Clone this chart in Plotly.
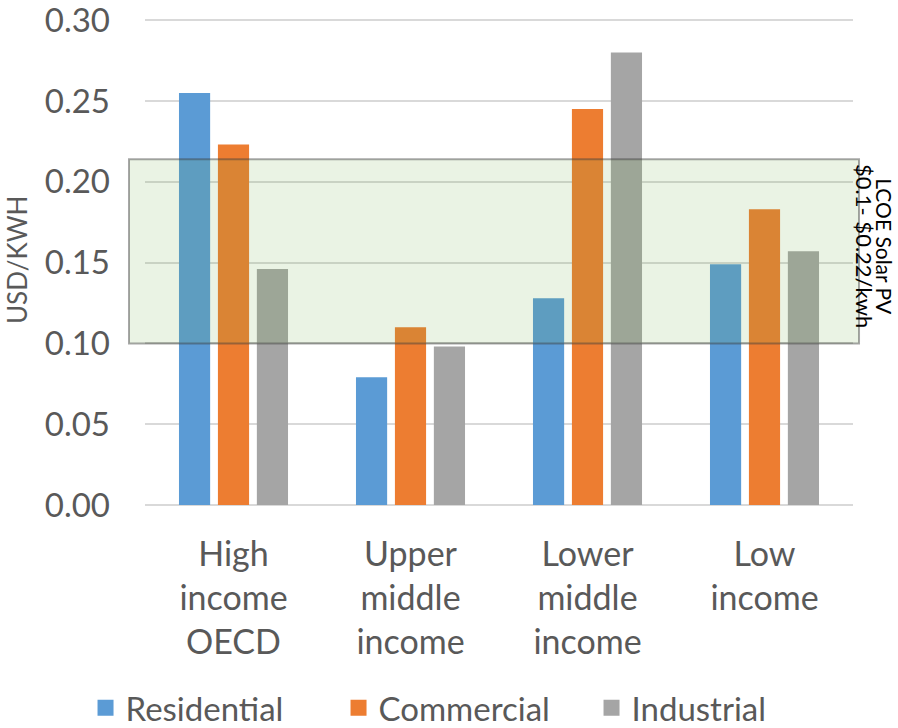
import plotly.graph_objects as go

categories = ["High<br>income<br>OECD", "Upper<br>middle<br>income", "Lower<br>middle<br>income", "Low<br>income"]
residential = [0.255, 0.079, 0.128, 0.149]
commercial = [0.223, 0.110, 0.245, 0.183]
industrial = [0.146, 0.098, 0.280, 0.157]
band_low, band_high = 0.10, 0.214
y_ticks = [0.00, 0.05, 0.10, 0.15, 0.20, 0.25, 0.30]
y_title = "USD/KWH"
band_label_1 = "LCOE Solar PV"
band_label_2 = "$0.1- $0.22/kwh"

FONT = "Lato"
GREY = "#595959"
series = [("Residential", residential, "#5B9BD5"),
          ("Commercial", commercial, "#ED7D31"),
          ("Industrial", industrial, "#A5A5A5")]

fig = go.Figure()
for name, vals, col in series:
    fig.add_trace(go.Bar(x=categories, y=vals, name=name, marker_color=col,
                         marker_line_width=0, showlegend=False))
# legend entries with square swatches
for name, vals, col in series:
    fig.add_trace(go.Scatter(x=[None], y=[None], mode="markers", name=name,
                             marker=dict(symbol="square", size=16, color=col)))

fig.add_shape(type="rect", xref="paper", yref="y", x0=-0.0226, x1=1.0085,
              y0=band_low, y1=band_high, layer="above",
              fillcolor="rgba(112,173,71,0.15)",
              line=dict(color="rgba(60,60,60,0.45)", width=2))

band_mid = 0.16
fig.add_annotation(xref="paper", yref="y", x=1.044, y=band_mid,
                   xanchor="center", yanchor="middle", showarrow=False,
                   textangle=90, text=band_label_1,
                   font=dict(family=FONT, size=21, color="black"))
fig.add_annotation(xref="paper", yref="y", x=1.016, y=band_mid,
                   xanchor="center", yanchor="middle", showarrow=False,
                   textangle=90, text=band_label_2,
                   font=dict(family=FONT, size=22, color="black"))

# y-axis title
fig.add_annotation(xref="paper", yref="y", x=-0.181, y=0.1515,
                   xanchor="center", yanchor="middle", showarrow=False,
                   textangle=-90, text=y_title,
                   font=dict(family=FONT, size=26, color=GREY))

fig.update_layout(
    width=898, height=728,
    margin=dict(l=145, r=45, t=4, b=223, autoexpand=False),
    plot_bgcolor="white", paper_bgcolor="white",
    barmode="group", bargap=0.34, bargroupgap=0.2,
    font=dict(family=FONT, color=GREY),
    showlegend=True,
    legend=dict(orientation="h", x=-0.084, xanchor="left", y=-0.405, yanchor="middle",
                font=dict(family=FONT, size=33, color=GREY),
                entrywidth=208, entrywidthmode="pixels", itemwidth=30),
    xaxis=dict(tickfont=dict(family=FONT, size=34, color=GREY), showgrid=False,
               ticks="", showline=False, automargin=False, ticklabelstandoff=26),
    yaxis=dict(range=[0, 0.31], tickvals=y_ticks, tickformat=".2f",
               tickfont=dict(family=FONT, size=33, color=GREY), automargin=False,
               ticklabeloverflow="allow",
               showgrid=True, gridcolor="#D9D9D9", gridwidth=1.5,
               zeroline=True, zerolinecolor="#D9D9D9", zerolinewidth=1.5,
               ticks="", ticklabelstandoff=34),
)

fig.write_html("out.html")
